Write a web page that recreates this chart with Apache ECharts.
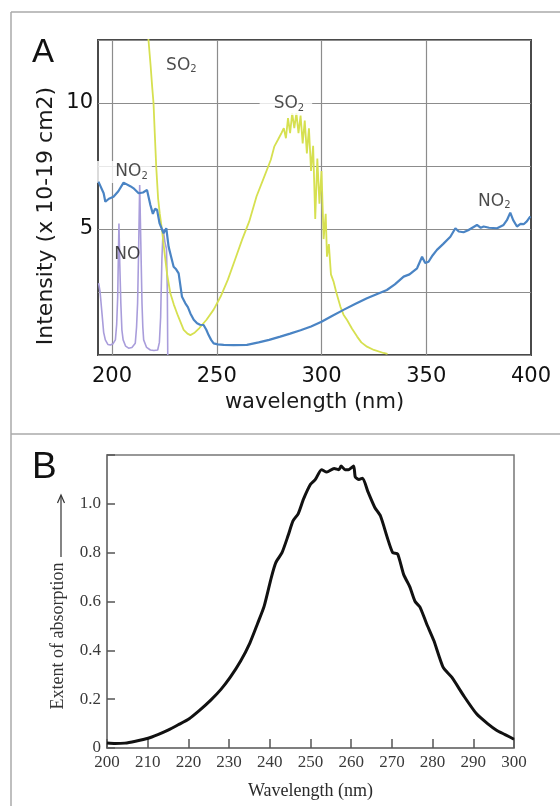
<!DOCTYPE html>
<html><head><meta charset="utf-8">
<script src="https://cdn.jsdelivr.net/npm/echarts@6/dist/echarts.min.js"></script>
<style>html,body{margin:0;padding:0;background:#fff}#c{width:560px;height:806px}</style>
</head><body><div id="c"></div>
<script>
// ---- Panel A data (wavelength nm, cross-section x 10^-19 cm2) ----
const no2Data = [[193.5,6.88],[196,6.42],[196.8,6.08],[198.5,6.2],[200.7,6.28],[203,6.5],[205.5,6.84],[208.7,6.7],[210.5,6.6],[212.7,6.42],[214.8,6.45],[216.7,6.55],[218.3,5.95],[219.5,5.6],[220.5,5.8],[221.5,5.76],[222.7,5.22],[224.6,4.83],[225.9,5.03],[227,4.3],[228.2,3.9],[229.4,3.5],[230.6,3.4],[231.8,3.24],[233.4,2.31],[235,2.05],[236.2,1.9],[237.4,1.65],[239,1.4],[240.6,1.26],[242,1.2],[243.7,1.19],[245,1.0],[246.1,0.79],[247.3,0.6],[248.5,0.46],[250.5,0.42],[253.3,0.4],[258,0.39],[264.4,0.4],[270,0.5],[275,0.6],[280.3,0.73],[285,0.85],[290,0.98],[295,1.13],[300,1.32],[305,1.55],[310.5,1.79],[316,2.02],[321.7,2.25],[326,2.4],[331.2,2.58],[335,2.8],[339.2,3.11],[342,3.2],[345.6,3.44],[348,3.9],[349.5,3.65],[351.1,3.7],[353,3.95],[355.1,4.17],[358,4.4],[361.5,4.69],[363.9,5.03],[365.5,4.9],[367.8,4.87],[370,4.95],[372,5.05],[374.2,5.16],[376,5.05],[377.4,5.1],[380,5.05],[383.8,5.03],[386.9,5.16],[388.5,5.35],[390.1,5.65],[391.5,5.35],[393.3,5.1],[395,5.2],[396.5,5.19],[398,5.3],[399.7,5.5]];
const so2Data = [[216.8,13.5],[217.4,12.5],[218.4,11.5],[219.2,10.6],[219.8,10.0],[220.4,8.8],[221.1,7.46],[222,6.2],[222.8,5.6],[223.8,5.0],[225,4.1],[226.3,3.2],[227.8,2.46],[229.5,2.0],[231.5,1.55],[234.2,1.0],[236,0.85],[237.4,0.79],[239.2,0.87],[241.7,1.07],[245.1,1.4],[248.5,1.8],[251.9,2.33],[255.3,2.99],[258.7,3.78],[262.1,4.58],[265.5,5.3],[269,6.3],[272.4,7.02],[275.8,7.75],[277.5,8.28],[279.2,8.54],[280.9,8.81],[282,9.0],[283,8.6],[284,9.4],[285,8.8],[286,9.6],[287,9.0],[288,9.6],[289,8.8],[290,9.5],[291,8.4],[292,9.3],[293,8.0],[294,9.0],[295,7.3],[296,8.3],[297,5.4],[298,7.8],[299,6.0],[300,7.3],[301,4.6],[302,5.6],[302.6,3.9],[303.5,4.4],[304.5,3.2],[305.8,2.9],[307,2.5],[309,1.92],[310.5,1.6],[312.2,1.39],[314.5,1.05],[317,0.73],[319,0.5],[321.7,0.33],[325,0.2],[329.6,0.08],[331.5,0.04]];
const noData = [[193.6,2.85],[194.3,2.5],[195.2,1.65],[196.0,0.9],[196.8,0.6],[198,0.42],[199.2,0.4],[200.5,0.45],[201.6,0.6],[202.2,1.2],[202.7,2.3],[203.0,3.8],[203.3,5.22],[203.7,3.6],[204.2,2.05],[204.7,1.0],[205.3,0.6],[206.5,0.35],[207.9,0.27],[209.5,0.3],[211.1,0.47],[211.7,1.1],[212.2,2.05],[212.7,4.2],[213.2,6.75],[213.8,4.2],[214.3,2.05],[214.7,1.1],[215.1,0.6],[216.5,0.3],[218.3,0.2],[220,0.18],[221.8,0.2],[222.6,0.5],[223.2,1.5],[223.8,3.8],[224.4,5.0],[225.2,4.5],[226,4.2],[226.4,2.5],[226.6,0.0]];
const aXTicks = [200, 250, 300, 350, 400];
const aYLabels = [5, 10];
const aLabels = [
  {name:'SO', sub:'2', at:[233.1, 11.5], pad:null},
  {name:'SO', sub:'2', at:[283.0, 9.96], pad:[2, 8, 2, 14]},
  {name:'NO', sub:'2', at:[205.5, 7.26], pad:[2, 4, 2, 20]},
  {name:'NO', sub:'',  at:[207.3, 3.97], pad:null},
  {name:'NO', sub:'2', at:[382.5, 6.1], pad:null}
];
// ---- Panel B data (wavelength nm, extent of absorption) ----
const absData = [[200,0.02],[202,0.018],[204.4,0.02],[207,0.028],[210.1,0.04],[212.5,0.055],[215,0.073],[217.5,0.095],[220.2,0.12],[222.8,0.155],[225.5,0.196],[228,0.24],[230.3,0.29],[232.8,0.355],[235.1,0.43],[237,0.51],[238.6,0.58],[240.4,0.70],[241.5,0.76],[243,0.80],[244.5,0.87],[245.7,0.93],[247,0.96],[248.3,1.02],[250,1.08],[251.2,1.10],[252.7,1.14],[254,1.13],[255.8,1.145],[257,1.14],[257.5,1.155],[258.5,1.14],[259.3,1.14],[260.6,1.155],[261,1.11],[261.9,1.1],[262.8,1.105],[264.1,1.05],[265.8,0.985],[267.2,0.95],[268.9,0.86],[270.2,0.80],[271.4,0.795],[272.9,0.71],[274.4,0.66],[275.7,0.60],[276.9,0.577],[278.5,0.51],[280.3,0.44],[282.6,0.33],[284.7,0.29],[287.8,0.21],[290.8,0.14],[293.5,0.1],[295.7,0.073],[297.8,0.055],[300,0.036]];
const bXTicks = [200,210,220,230,240,250,260,270,280,290,300];

const sansA = 'DejaVu Sans';
const serif = 'Liberation Serif';
const gridGray = '#8c8c8c';

const chart = echarts.init(document.getElementById('c'));
const labelSeriesData = aLabels.map(l => ({
  value: l.at,
  label: {
    show: true, position: 'inside',
    formatter: l.sub ? '{m|' + l.name + '}{s|' + l.sub + '}' : '{m|' + l.name + '}',
    backgroundColor: l.pad ? '#fff' : 'transparent',
    padding: l.pad || 0,
    rich: {
      m: {fontFamily: sansA, fontSize: 17, color: '#1e1e1e', letterSpacing: -1},
      s: {fontFamily: sansA, fontSize: 10, color: '#1e1e1e', verticalAlign: 'bottom', padding:[8,0,0,0]}
    }
  }
}));

chart.setOption({
  animation: false,
  backgroundColor: '#fff',
  grid: [
    {left: 98, top: 40, width: 433, height: 315, show: true, borderColor: '#4a4a4a', borderWidth: 2},
    {left: 107, top: 455, width: 407, height: 293, show: true, borderColor: '#777', borderWidth: 1.5}
  ],
  xAxis: [
    {gridIndex: 0, type: 'value', min: 193.3, max: 400,
     axisLine: {show: false}, axisTick: {show: false}, splitLine: {show: false},
     axisLabel: {customValues: aXTicks, color: '#111', fontFamily: sansA, fontSize: 21, letterSpacing: 1, margin: 11},
     name: 'wavelength (nm)', nameLocation: 'middle', nameGap: 37,
     nameTextStyle: {fontFamily: sansA, fontSize: 21, color: '#1a1a1a', letterSpacing: 0.5}},
    {gridIndex: 1, type: 'value', min: 200, max: 300, interval: 10,
     axisLine: {show: true, lineStyle: {color: '#777', width: 1.5}},
     axisTick: {show: true, inside: true, length: 9, lineStyle: {color: '#555', width: 1.5}},
     splitLine: {show: false},
     axisLabel: {color: '#3a3a3a', fontFamily: serif, fontSize: 17, margin: 6},
     name: 'Wavelength (nm)', nameLocation: 'middle', nameGap: 34,
     nameTextStyle: {fontFamily: serif, fontSize: 18, color: '#2a2a2a'}}
  ],
  yAxis: [
    {gridIndex: 0, type: 'value', min: 0, max: 12.5, interval: 2.5,
     axisLine: {show: false}, axisTick: {show: false},
     splitLine: {show: true, lineStyle: {color: gridGray, width: 1.2}},
     axisLabel: {color: '#111', fontFamily: sansA, fontSize: 21, margin: 5,
       formatter: v => aYLabels.includes(v) ? String(v) : ''}},
    {gridIndex: 1, type: 'value', min: 0, max: 1.2, interval: 0.2,
     axisLine: {show: true, lineStyle: {color: '#777', width: 1.5}},
     axisTick: {show: true, inside: true, length: 8, lineStyle: {color: '#555', width: 1.5}},
     splitLine: {show: false},
     axisLabel: {color: '#3a3a3a', fontFamily: serif, fontSize: 17, margin: 6,
       formatter: v => v === 0 ? '0' : (v > 1.1 ? '' : v.toFixed(1))}}
  ],
  series: [
    {type: 'line', xAxisIndex: 0, yAxisIndex: 0, data: [], silent: true,
     markLine: {silent: true, z: 1, symbol: ['none', 'none'], label: {show: false},
       lineStyle: {color: gridGray, width: 1.2, type: 'solid'},
       data: aXTicks.slice(0, 4).map(v => ({xAxis: v}))}},
    {name: 'NO', type: 'line', xAxisIndex: 0, yAxisIndex: 0, data: noData, showSymbol: false, z: 3,
     lineStyle: {color: '#a99ddb', width: 1.6}},
    {name: 'SO2', type: 'line', xAxisIndex: 0, yAxisIndex: 0, data: so2Data, showSymbol: false, z: 4,
     lineStyle: {color: '#d6e050', width: 1.8}},
    {type: 'scatter', xAxisIndex: 0, yAxisIndex: 0, symbolSize: 1, z: 4.5, silent: true,
     itemStyle: {color: 'rgba(0,0,0,0)'}, data: labelSeriesData},
    {name: 'NO2', type: 'line', xAxisIndex: 0, yAxisIndex: 0, data: no2Data, showSymbol: false, z: 6,
     lineStyle: {color: '#4a84c4', width: 2.2}},
    {name: 'absorption', type: 'line', xAxisIndex: 1, yAxisIndex: 1, data: absData, showSymbol: false,
     smooth: 0.2, lineStyle: {color: '#111', width: 3}}
  ],
  graphic: [
    {type: 'line', shape: {x1: 11, y1: 12, x2: 11, y2: 806}, style: {stroke: '#aaa', lineWidth: 1.5}},
    {type: 'line', shape: {x1: 11, y1: 12, x2: 560, y2: 12}, style: {stroke: '#aaa', lineWidth: 1.5}},
    {type: 'line', shape: {x1: 11, y1: 434, x2: 560, y2: 434}, style: {stroke: '#aaa', lineWidth: 1.5}},
    {type: 'text', left: 32, top: 36, style: {text: 'A', fontFamily: 'Liberation Sans', fontSize: 33, fill: '#111'}},
    {type: 'text', left: 32, top: 449, style: {text: 'B', fontFamily: 'Liberation Sans', fontSize: 37, fill: '#111'}},
    {type: 'text', x: 46, y: 216, rotation: Math.PI / 2,
     style: {text: 'Intensity (x 10-19 cm2)', fontFamily: sansA, fontSize: 22, fill: '#1a1a1a', align: 'center', verticalAlign: 'middle'}},
    {type: 'text', x: 58, y: 636, rotation: Math.PI / 2,
     style: {text: 'Extent of absorption', fontFamily: serif, fontSize: 18, fill: '#333', align: 'center', verticalAlign: 'middle'}},
    {type: 'line', shape: {x1: 61, y1: 557, x2: 61, y2: 496}, style: {stroke: '#333', lineWidth: 1.2}},
    {type: 'polyline', shape: {points: [[57.5, 503], [61, 495], [64.5, 503]]}, style: {stroke: '#333', lineWidth: 1.2, fill: null}}
  ]
});
</script></body></html>
